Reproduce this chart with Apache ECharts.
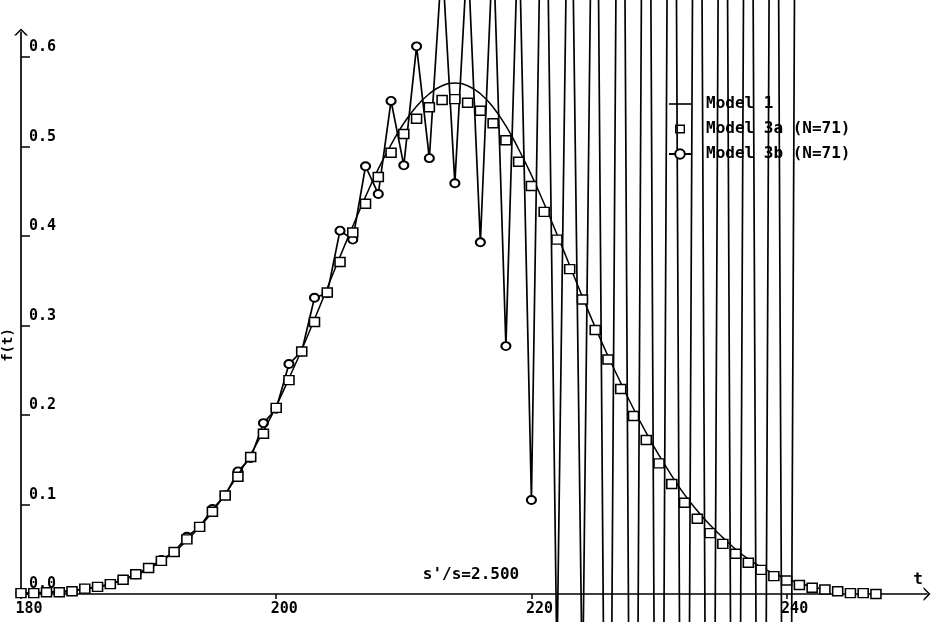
<!DOCTYPE html>
<html>
<head>
<meta charset="utf-8">
<script src="https://cdn.jsdelivr.net/npm/echarts@6/dist/echarts.min.js"></script>
<style>
html,body{margin:0;padding:0;background:#fff;}
#c{width:932px;height:622px;}
</style>
</head>
<body>
<div id="c"></div>
<script>
// ---- data ----
const seriesNames = ['Model 1', 'Model 3a (N=71)', 'Model 3b (N=71)'];

const tModel1 = [180,181,182,183,184,185,186,187,188,189,190,191,192,193,194,195,196,197,198,199,
  200,201,202,203,204,205,206,207,208,209,210,211,212,213,214,215,216,217,218,219,
  220,221,222,223,224,225,226,227,228,229,230,231,232,233,234,235,236,237,238,239,
  240,241,242,243];
const model1 = [0.001,0.001,0.002,0.003,0.004,0.006,0.008,0.011,0.016,0.021,
  0.028,0.037,0.047,0.060,0.075,0.092,0.112,0.133,0.156,0.182,
  0.210,0.241,0.273,0.307,0.342,0.377,0.411,0.444,0.475,0.502,
  0.526,0.545,0.559,0.568,0.571,0.568,0.559,0.544,0.523,0.497,
  0.468,0.436,0.402,0.367,0.332,0.298,0.266,0.236,0.207,0.180,
  0.155,0.132,0.111,0.093,0.077,0.063,0.050,0.039,0.030,0.023,
  0.017,0.012,0.008,0.005];

const tModel3a = [180,181,182,183,184,185,186,187,188,189,190,191,192,193,194,195,196,197,198,199,
  200,201,202,203,204,205,206,207,208,209,210,211,212,213,214,215,216,217,218,219,
  220,221,222,223,224,225,226,227,228,229,230,231,232,233,234,235,236,237,238,239,
  240,241,242,243,244,245,246,247];
const model3a = [0.001,0.001,0.002,0.002,0.003,0.006,0.008,0.011,0.016,0.022,
  0.029,0.037,0.047,0.061,0.075,0.092,0.110,0.131,0.153,0.179,
  0.208,0.239,0.271,0.304,0.337,0.371,0.404,0.436,0.466,0.493,
  0.514,0.531,0.544,0.552,0.553,0.549,0.540,0.526,0.507,0.483,
  0.456,0.427,0.396,0.363,0.329,0.295,0.262,0.229,0.199,0.172,
  0.146,0.123,0.102,0.084,0.068,0.056,0.045,0.035,0.027,0.020,
  0.015,0.010,0.007,0.005,0.003,0.001,0.001,0.000];

const tModel3b = [180,181,182,183,184,185,186,187,188,189,190,191,192,193,194,195,196,197,198,199,
  200,201,202,203,204,205,206,207,208,209,210,211,212,213,214,215,216,217,218,219,
  220,221,222,223,224,225,226,227,228,229,230,231,232,233,234,235,236,237,238,239,
  240,241];
const model3b = [0.001,0.001,0.002,0.002,0.003,0.006,0.008,0.011,0.016,0.022,
  0.029,0.038,0.047,0.064,0.075,0.095,0.110,0.137,0.152,0.191,
  0.207,0.257,0.271,0.331,0.336,0.406,0.396,0.478,0.447,0.551,
  0.479,0.612,0.487,0.71,0.459,0.72,0.393,0.73,0.277,0.76,
  0.105,1.02,-0.08,0.98,-0.12,1.15,-0.7,1.5,-1.0,1.7,
  -1.15,1.75,-1.2,1.8,-1.25,1.8,-1.25,1.85,-1.3,1.85,
  -1.3,1.9];

const xTicks = [180, 200, 220, 240];
const xTickLabels = ['180', '200', '220', '240'];
const yTicks = [0, 0.1, 0.2, 0.3, 0.4, 0.5, 0.6];
const yTickLabels = ['0.0', '0.1', '0.2', '0.3', '0.4', '0.5', '0.6'];
const annotation = "s'/s=2.500";
const xName = 't';
const yName = 'f(t)';

// ---- chart ----
const FONT = '"DejaVu Sans Mono", "Liberation Mono", monospace';
const zip = (xs, ys) => xs.map((x, i) => [x, ys[i]]);
const pick = (vals, labels, v) => {
  for (let i = 0; i < vals.length; i++) if (Math.abs(vals[i] - v) < 1e-9) return labels[i];
  return '';
};
const arrowPath = 'path://M0,10 L10,0 L20,10 L17,10 L10,3 L3,10 Z';
const legendLineIcon = 'path://M0,0 M22,12 M0,5.2 L22,5.2 L22,6.8 L0,6.8 Z';
const legendSquareIcon = 'path://M0,0 M22,12 M6,1.5 L16,1.5 L16,10.5 L6,10.5 Z M7.4,2.9 L7.4,9.1 L14.6,9.1 L14.6,2.9 Z';

const chart = echarts.init(document.getElementById('c'), null, {renderer: 'canvas'});
chart.setOption({
  animation: false,
  backgroundColor: '#ffffff',
  color: ['#000', '#000', '#000'],
  grid: {left: 21, right: 5, top: 32, bottom: 28, containLabel: false},
  xAxis: {
    type: 'value', min: 180, max: 251, interval: 20,
    axisLine: {onZero: false, lineStyle: {color: '#000', width: 1.7},
      symbol: ['none', arrowPath], symbolSize: [14, 7]},
    axisTick: {show: true, inside: false, length: 5, customValues: xTicks,
      lineStyle: {color: '#000', width: 1.5}},
    axisLabel: {customValues: xTicks, color: '#000', fontFamily: FONT, fontWeight: 'bold',
      fontSize: 15, margin: 8, padding: [0, 0, 0, 16],
      formatter: v => pick(xTicks, xTickLabels, v)},
    splitLine: {show: false}
  },
  yAxis: {
    type: 'value', min: 0, max: 0.628, interval: 0.1,
    axisLine: {show: true, onZero: false, lineStyle: {color: '#000', width: 1.7},
      symbol: ['none', arrowPath], symbolSize: [14, 7]},
    axisTick: {show: true, inside: true, length: 9, customValues: yTicks,
      lineStyle: {color: '#000', width: 1.5}},
    axisLabel: {inside: true, customValues: yTicks, color: '#000', fontFamily: FONT,
      fontWeight: 'bold', fontSize: 15, margin: 8, align: 'left', verticalAlign: 'bottom',
      padding: [0, 0, 2, 0],
      formatter: v => pick(yTicks, yTickLabels, v)},
    splitLine: {show: false}
  },
  legend: {
    orient: 'vertical', left: 668, top: 96, padding: 0, itemWidth: 22, itemHeight: 12, itemGap: 9,
    selectedMode: false,
    data: [
      {name: seriesNames[0], icon: legendLineIcon, itemStyle: {color: '#000', borderWidth: 0}},
      {name: seriesNames[1], icon: legendSquareIcon, itemStyle: {color: '#000', borderWidth: 0}},
      {name: seriesNames[2]}
    ],
    textStyle: {fontFamily: FONT, fontWeight: 'bold', fontSize: 16, color: '#000',
      padding: [0, 0, 0, 10]}
  },
  series: [
    {
      name: seriesNames[0], type: 'line', data: zip(tModel1, model1), smooth: true,
      symbol: 'none', clip: false, z: 3,
      lineStyle: {color: '#000', width: 1.5}
    },
    {
      name: seriesNames[1], type: 'scatter', data: zip(tModel3a, model3a),
      symbol: 'rect', symbolSize: [10, 9], z: 4,
      itemStyle: {color: '#fff', borderColor: '#000', borderWidth: 1.5, opacity: 1}
    },
    {
      name: seriesNames[2], type: 'line', data: zip(tModel3b, model3b),
      symbol: 'emptyCircle', symbolSize: [9, 8], showSymbol: true, showAllSymbol: true,
      clip: false, z: 2,
      lineStyle: {color: '#000', width: 1.7},
      itemStyle: {color: '#000', borderWidth: 1.4}
    }
  ],
  graphic: [
    {type: 'text', x: 471, y: 575, style: {text: annotation, fill: '#000', font: 'bold 16px ' + FONT,
      textAlign: 'center', textVerticalAlign: 'middle'}, z: 10},
    {type: 'text', x: 918, y: 580, style: {text: xName, fill: '#000', font: 'bold 16px ' + FONT,
      textAlign: 'center', textVerticalAlign: 'middle'}, z: 10},
    {type: 'text', x: 8, y: 345, rotation: Math.PI / 2, style: {text: yName, fill: '#000',
      font: 'bold 14px ' + FONT, textAlign: 'center', textVerticalAlign: 'middle'}, z: 10}
  ]
});
</script>
</body>
</html>
